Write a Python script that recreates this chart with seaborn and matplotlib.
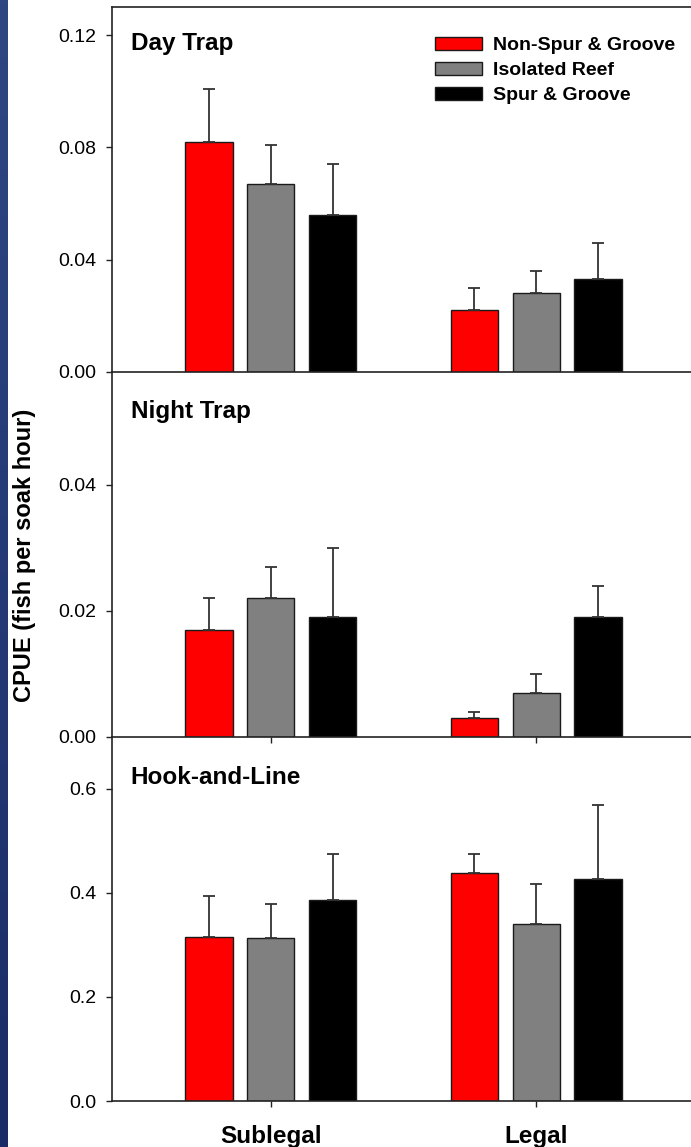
import numpy as np
import pandas as pd
import matplotlib
matplotlib.use("Agg")
import matplotlib.pyplot as plt
from matplotlib.container import BarContainer
from matplotlib.colors import LinearSegmentedColormap
import seaborn as sns

# ---- data ----
size_classes = ["Sublegal", "Legal"]
habitats = ["Non-Spur & Groove", "Isolated Reef", "Spur & Groove"]
panels = ["Day Trap", "Night Trap", "Hook-and-Line"]

# means [habitat][size class]
day_mean = [[0.082, 0.022], [0.067, 0.028], [0.056, 0.033]]
day_upper = [[0.101, 0.030], [0.081, 0.036], [0.074, 0.046]]
night_mean = [[0.017, 0.003], [0.022, 0.007], [0.019, 0.019]]
night_upper = [[0.022, 0.004], [0.027, 0.010], [0.030, 0.024]]
hook_mean = [[0.316, 0.438], [0.314, 0.341], [0.386, 0.426]]
hook_upper = [[0.393, 0.475], [0.379, 0.417], [0.474, 0.569]]

y_limits = [0.130, 0.058, 0.70]
y_ticks = [[0.00, 0.04, 0.08, 0.12], [0.00, 0.02, 0.04], [0.0, 0.2, 0.4, 0.6]]
y_fmt = ["{:.2f}", "{:.2f}", "{:.1f}"]

colors = ["#ff0000", "#808080", "#000000"]

means = [day_mean, night_mean, hook_mean]
uppers = [day_upper, night_upper, hook_upper]

sns.set_style("ticks")
plt.rcParams["font.family"] = ["Liberation Sans", "DejaVu Sans"]
plt.rcParams["text.color"] = "black"
plt.rcParams["axes.labelcolor"] = "black"
plt.rcParams["xtick.color"] = "black"
plt.rcParams["ytick.color"] = "black"

W, H = 691, 1147
fig = plt.figure(figsize=(W / 100, H / 100), dpi=100)
fig.patch.set_facecolor("white")

# dark blue strip on left edge
strip = fig.add_axes([0, 0, 8 / W, 1])
grad = np.linspace(0, 1, 256).reshape(-1, 1)
cm = LinearSegmentedColormap.from_list("s", ["#2e4783", "#1a2c68"])
strip.imshow(grad, aspect="auto", cmap=cm, extent=[0, 1, 0, 1], origin="upper")
strip.set_axis_off()

left = 112.3 / W
right = 1.0
edges = [7.3, 371.7, 736.7, 1101.0]
axes = []
for i in range(3):
    top_px, bot_px = edges[i], edges[i + 1]
    ax = fig.add_axes([left, 1 - bot_px / H, right - left, (bot_px - top_px) / H])
    ax.set_facecolor("none")
    axes.append(ax)

for i, ax in enumerate(axes):
    rows = []
    for h, hab in enumerate(habitats):
        for s, sc in enumerate(size_classes):
            rows.append({"size": sc, "habitat": hab, "value": means[i][h][s]})
    df = pd.DataFrame(rows)
    sns.barplot(data=df, x="size", y="value", hue="habitat", order=size_classes,
                hue_order=habitats, palette=colors, width=0.7, gap=0.24,
                edgecolor="#1a1a1a", linewidth=1.0, errorbar=None, ax=ax,
                legend=(i == 0), saturation=1)
    bar_conts = [c for c in ax.containers if isinstance(c, BarContainer)]
    for h, cont in enumerate(bar_conts):
        for s, bar in enumerate(cont.patches):
            xc = bar.get_x() + bar.get_width() / 2
            v = means[i][h][s]
            u = uppers[i][h][s]
            ax.errorbar(xc, v, yerr=[[0], [u - v]], fmt="none", ecolor="#333333",
                        elinewidth=1.3, capsize=4.3, capthick=1.3, zorder=1)
    ax.set_xlim(-0.598, 1.584)
    ax.set_ylim(0, y_limits[i])
    ax.set_yticks(y_ticks[i])
    ax.set_yticklabels([y_fmt[i].format(t) for t in y_ticks[i]])
    ax.tick_params(axis="y", direction="out", length=6 * 0.72, width=1.0,
                   labelsize=14, pad=7, colors="#222222", labelcolor="black")
    ax.set_xlabel("")
    ax.set_ylabel("")
    ax.spines["right"].set_visible(False)
    if i > 0:
        ax.spines["top"].set_visible(False)
    for sp in ["left", "bottom", "top"]:
        ax.spines[sp].set_linewidth(1.2)
        ax.spines[sp].set_color("#222222")
    if i < 2:
        ax.tick_params(axis="x", labelbottom=False)
    if i == 0:
        ax.tick_params(axis="x", length=0)
    else:
        ax.tick_params(axis="x", direction="out", length=6 * 0.72, width=1.0,
                       colors="#222222", labelcolor="black")
    ax.text(0.032, [0.883, 0.872, 0.869][i], panels[i], transform=ax.transAxes,
            fontsize=17.5, fontweight="bold", va="baseline", ha="left",
            color="black")

axes[0].set_zorder(1)
axes[1].set_zorder(3)
axes[2].set_zorder(2)

axes[2].tick_params(axis="x", labelbottom=True, labelsize=17.5, pad=13)
for lab in axes[2].get_xticklabels():
    lab.set_fontweight("bold")

# legend
leg = axes[0].get_legend()
handles = leg.legend_handles
leg.remove()
lg = axes[0].legend(handles, habitats, loc="upper left", bbox_to_anchor=(0.5576, 0.918),
                    frameon=False, prop={"weight": "bold", "size": 14},
                    handlelength=2.4, handleheight=0.62, handletextpad=0.6,
                    labelspacing=0.40, borderpad=0, borderaxespad=0)
for t in lg.get_texts():
    t.set_color("black")

fig.text(25 / W, 1 - 555 / H, "CPUE (fish per soak hour)", rotation=90,
         ha="center", va="center", fontsize=17, fontweight="bold", color="black")

fig.savefig("out.png", dpi=100, facecolor="white")
